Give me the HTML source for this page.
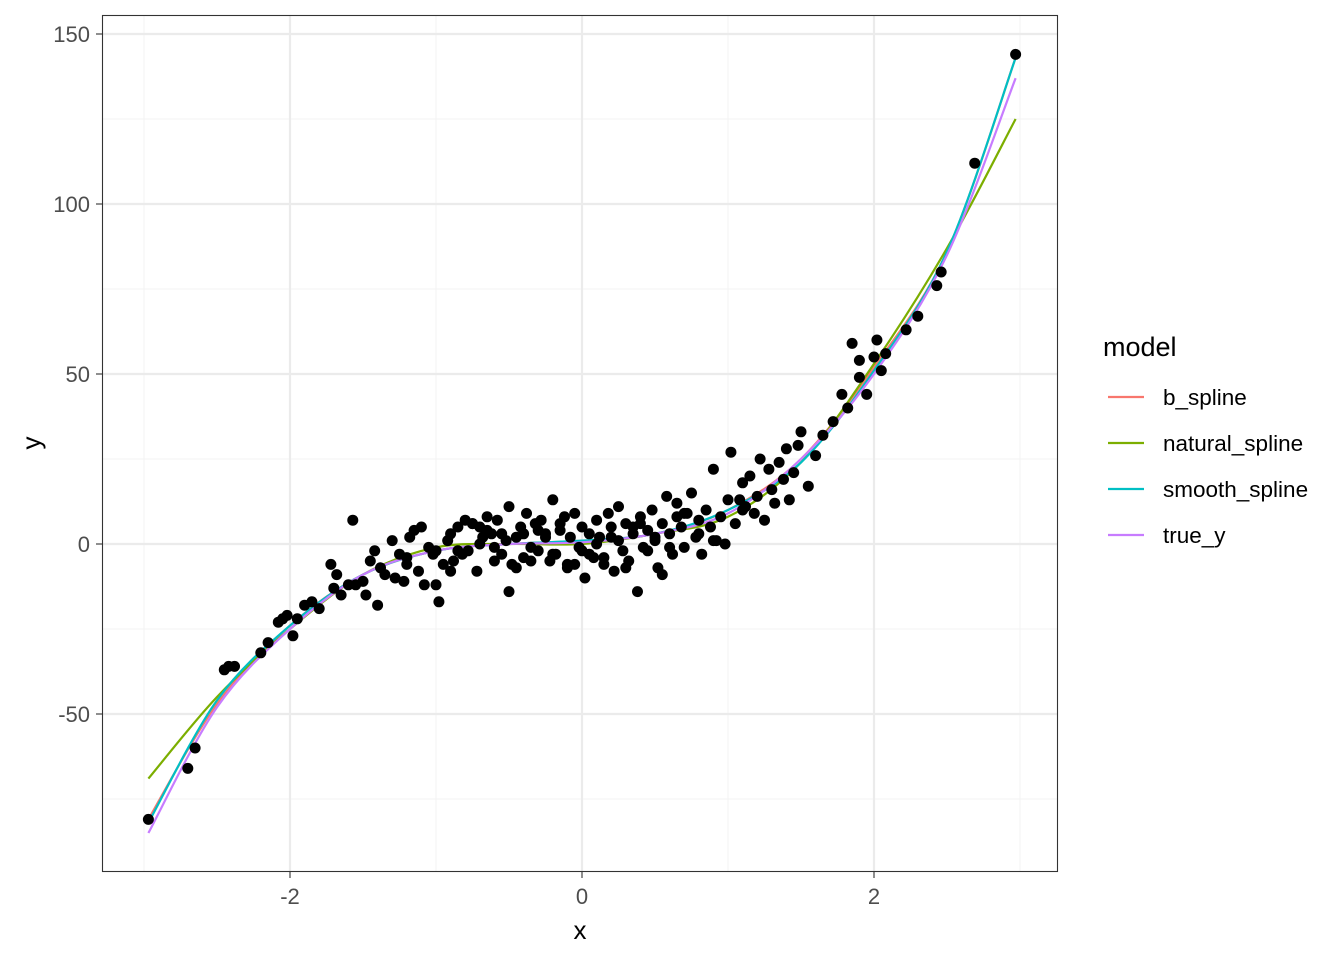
<!DOCTYPE html>
<html><head><meta charset="utf-8"><style>
body{margin:0;background:#fff;}
svg text{font-family:"Liberation Sans",Arial,sans-serif;}
</style></head><body>
<svg id="chart" width="1344" height="960" xmlns="http://www.w3.org/2000/svg">
<rect width="1344" height="960" fill="#fff"/>
<g id="grid"></g>
<g id="lines"></g>
<g id="pts"></g>
<rect x="102.5" y="15.5" width="955" height="856" fill="none" stroke="#333" stroke-width="1.1"/>
<g id="axes"></g>
<text x="580" y="939" font-size="26" text-anchor="middle" fill="#000">x</text>
<text x="40" y="443" font-size="26" text-anchor="middle" fill="#000" transform="rotate(-90 40 443)">y</text>
<g id="legend">
<text x="1103" y="356" font-size="27" fill="#000">model</text>
</g>
</svg>
<script>
const xTicks=[-2,0,2];
const yTicks=[-50,0,50,100,150];
const xMinor=[-3,-1,1,3];
const yMinor=[-75,-25,25,75,125];
const curveX=[-2.97,-2.5,-2,-1.5,-1,-0.5,0,0.5,1,1.5,2,2.5,2.97];
const bSpline=[-81,-47,-24,-9,-2,0,1,3,10,25,52,86,143];
const naturalSpline=[-69,-45,-25,-9,-1,0,0,3,8,24,53,87,125];
const smoothSpline=[-82,-46,-24,-9,-2,0,1,3,10,24,51,86,143];
const trueY=[-85,-48,-25,-9,-2,0,0.5,3,9,25,50,85,137];
const seriesNames=["b_spline","natural_spline","smooth_spline","true_y"];
const seriesColors=["#F8766D","#7CAE00","#00BFC4","#C77CFF"];
const ptX=[
-2.97,-2.7,-2.65,-2.45,-2.42,-2.38,-2.2,-2.15,-2.08,-2.05,
-2.02,-1.98,-1.95,-1.9,-1.85,-1.8,-1.72,-1.7,-1.68,-1.65,
-1.6,-1.57,-1.55,-1.5,-1.48,-1.45,-1.42,-1.4,-1.38,-1.35,
-1.3,-1.28,-1.25,-1.22,-1.2,-1.18,-1.15,-1.12,-1.1,-1.08,
-1.05,-1.02,-1.0,-0.98,-0.95,-0.92,-0.9,-0.88,-0.85,-0.82,
-0.8,-0.78,-0.75,-0.72,-0.7,-0.68,-0.65,-0.62,-0.6,-0.58,
-0.55,-0.52,-0.5,-0.5,-0.48,-0.45,-0.42,-0.4,-0.38,-0.35,
-0.32,-0.3,-0.28,-0.25,-0.22,-0.2,-0.18,-0.15,-0.12,-0.1,
-0.08,-0.05,-0.02,0,0.02,0.05,0.08,0.1,0.12,0.15,
0.18,0.2,0.22,0.25,0.28,0.3,0.32,0.35,0.38,0.4,
0.42,0.45,0.48,0.5,0.52,0.55,0.58,0.6,0.62,0.65,
0.68,0.7,0.72,0.75,0.78,0.8,0.82,0.85,0.88,0.9,
0.92,0.95,0.98,1.0,1.02,1.05,1.08,1.1,1.12,1.15,
1.18,1.2,1.22,1.25,1.28,1.3,1.32,1.35,1.38,1.4,
1.42,1.45,1.48,1.5,1.55,1.6,1.65,1.72,1.78,1.82,
1.85,1.9,1.9,1.95,2.0,2.02,2.05,2.08,2.22,2.3,
2.43,2.46,2.69,2.97,-0.6,-0.3,0.1,0.4,-0.9,-1.2,
0.7,0.2,-0.1,-0.4,0.55,-0.7,0.9,-1.0,1.1,-0.2,
0.3,-0.55,0.65,0.0,-0.35,-0.15,0.05,0.25,0.45,-0.65,
-0.45,-0.25,0.15,0.35,0.6,0.8,-0.85,-0.75,-0.05,0.5];
const ptY=[
-81,-66,-60,-37,-36,-36,-32,-29,-23,-22,
-21,-27,-22,-18,-17,-19,-6,-13,-9,-15,
-12,7,-12,-11,-15,-5,-2,-18,-7,-9,
1,-10,-3,-11,-6,2,4,-8,5,-12,
-1,-3,-2,-17,-6,1,3,-5,5,-3,
7,-2,6,-8,0,2,8,3,-5,7,
-3,1,-14,11,-6,2,5,-4,9,-1,
6,-2,7,3,-5,13,-3,4,8,-7,
2,9,-1,5,-10,3,-4,7,2,-6,
9,5,-8,11,-2,6,-5,3,-14,8,
-1,4,10,2,-7,6,14,3,-3,12,
5,-1,9,15,2,7,-3,10,5,22,
1,8,0,13,27,6,13,18,11,20,
9,14,25,7,22,16,12,24,19,28,
13,21,29,33,17,26,32,36,44,40,
59,49,54,44,55,60,51,56,63,67,
76,80,112,144,-1,4,0,6,-8,-4,
9,2,-6,3,-9,5,1,-12,10,-3,
-7,3,8,-2,-5,6,-3,1,-2,4,
-7,2,-4,5,-1,3,-2,6,-6,1];
const X0=102,X1=1058,Y0=15,Y1=872;
const xs=v=>582+v*146, ys=v=>544-v*3.4;
const NS="http://www.w3.org/2000/svg";
function mk(t,a,p){const e=document.createElementNS(NS,t);for(const k in a)e.setAttribute(k,a[k]);p.appendChild(e);return e;}
const grid=document.getElementById('grid');
xMinor.forEach(v=>{const l=mk('line',{x1:xs(v),x2:xs(v),y1:Y0,y2:Y1,stroke:'#F3F3F3','stroke-width':1},grid);

});
yMinor.forEach(v=>{const l=mk('line',{x1:X0,x2:X1,y1:ys(v),y2:ys(v),stroke:'#F3F3F3','stroke-width':1},grid);

});
const axes=document.getElementById('axes');
xTicks.forEach(v=>{const l=mk('line',{x1:xs(v),x2:xs(v),y1:Y0,y2:Y1,stroke:'#EBEBEB','stroke-width':2.2},grid);


const t=mk('line',{x1:xs(v),x2:xs(v),y1:Y1,y2:Y1+6,stroke:'#333','stroke-width':1.1},axes);


const tx=mk('text',{x:xs(v),y:Y1+32,'font-size':22,'text-anchor':'middle',fill:'#4D4D4D'},axes);tx.textContent=v;

});
yTicks.forEach(v=>{const l=mk('line',{x1:X0,x2:X1,y1:ys(v),y2:ys(v),stroke:'#EBEBEB','stroke-width':2.2},grid);


const t=mk('line',{x1:X0-6,x2:X0,y1:ys(v),y2:ys(v),stroke:'#333','stroke-width':1.1},axes);


const tx=mk('text',{x:X0-12,y:ys(v)+8,'font-size':22,'text-anchor':'end',fill:'#4D4D4D'},axes);tx.textContent=v;

});
const pts=document.getElementById('pts');
ptX.forEach((v,i)=>{const c=mk('circle',{cx:xs(v),cy:ys(ptY[i]),r:5.5,fill:'#000'},pts);

});
function pathD(xv,yv){const P=xv.map((x,i)=>[xs(x),ys(yv[i])]);let d='M'+P[0][0]+','+P[0][1];
for(let i=0;i<P.length-1;i++){const p0=P[Math.max(0,i-1)],p1=P[i],p2=P[i+1],p3=P[Math.min(P.length-1,i+2)];
d+=' C'+(p1[0]+(p2[0]-p0[0])/6)+','+(p1[1]+(p2[1]-p0[1])/6)+' '+(p2[0]-(p3[0]-p1[0])/6)+','+(p2[1]-(p3[1]-p1[1])/6)+' '+p2[0]+','+p2[1];}return d;}
const lines=document.getElementById('lines');
const allSeries=[bSpline,naturalSpline,smoothSpline,trueY];
const lg=document.getElementById('legend');
allSeries.forEach((s,i)=>{const p=mk('path',{d:pathD(curveX,s),fill:'none',stroke:seriesColors[i],'stroke-width':2.2},lines);


const y=397+i*46;
const k=mk('line',{x1:1108,x2:1144,y1:y,y2:y,stroke:seriesColors[i],'stroke-width':2.2},lg);


const t=mk('text',{x:1163,y:y+8,'font-size':22.5,fill:'#000'},lg);t.textContent=seriesNames[i];

});
</script>
</body></html>
